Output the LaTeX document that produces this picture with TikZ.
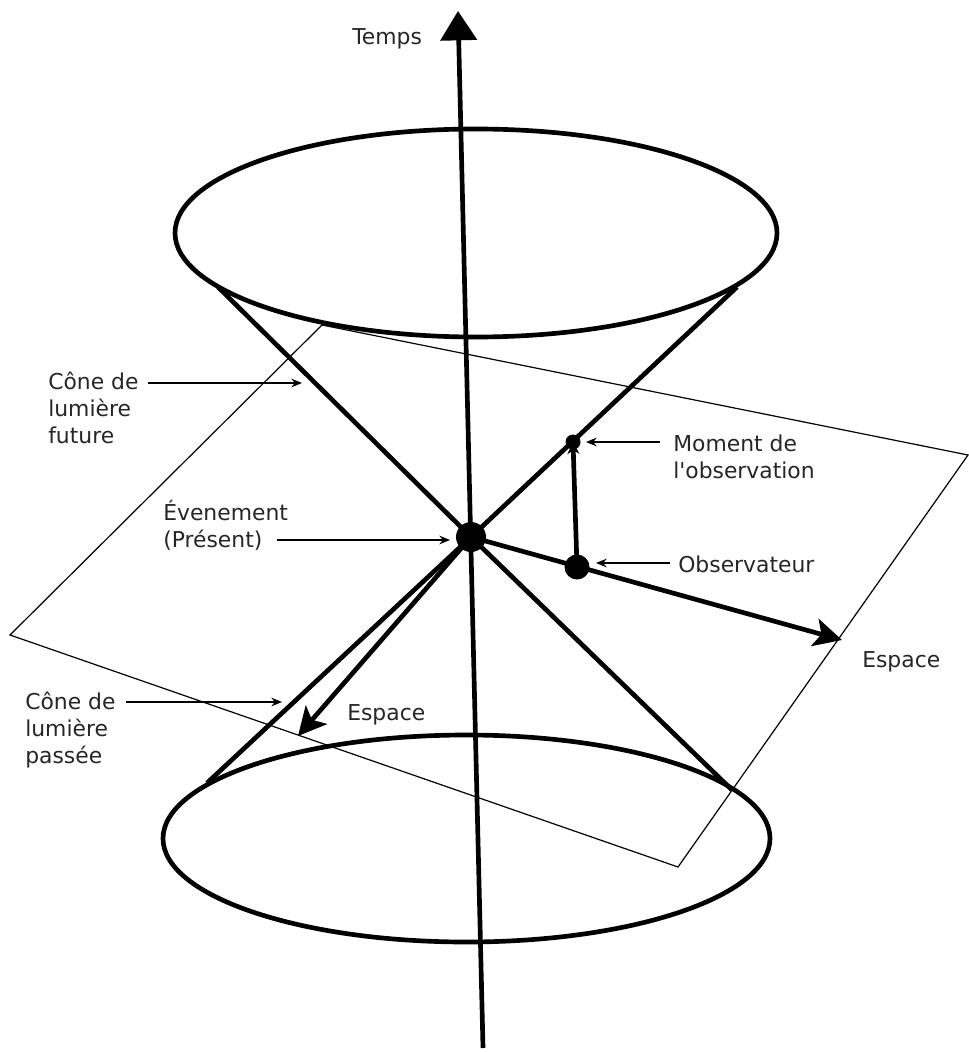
\documentclass[tikz,border=0pt]{standalone}
\usepackage{fontspec}
\setmainfont{DejaVu Sans}
\usepackage{tikz}
\usetikzlibrary{arrows.meta}

\begin{document}
\begin{tikzpicture}[x=0.75pt,y=-0.75pt,
  cone/.style={line width=3.5pt},
  plane/.style={line width=0.9pt},
  pointer/.style={line width=1.2pt,-{Stealth[length=8pt,width=6.5pt]}},
  space/.style={line width=3.5pt,-{Stealth[length=21pt,width=21pt,inset=5pt]}},
  lab/.style={anchor=base west,align=left,inner sep=0pt,text=black!85,
    font=\fontsize{16.4}{20}\selectfont}]
\useasboundingbox[fill=white] (0,0) rectangle (969,1052);
% plan de l'espace
\coordinate (plA) at (322,325);
\coordinate (plB) at (968,455);
\coordinate (plC) at (678,867);
\coordinate (plD) at (10,635);
\draw[plane] (plA) -- (plB) -- (plC) -- (plD) -- cycle;
% cones de lumiere
\coordinate (event) at (471,537);
\draw[cone] (476,233) ellipse [x radius=301, y radius=104];
\draw[cone] (466.5,838.5) ellipse [x radius=303.5, y radius=103.5];
\coordinate (tl) at (218,287);
\coordinate (tr) at (737,287);
\coordinate (bl) at (207,783);
\coordinate (br) at (732,790);
\draw[cone] (tl) -- (event) -- (br);
\draw[cone] (tr) -- (event) -- (bl);
% axe du temps
\coordinate (tbot) at (483,1048);
\coordinate (ttop) at (458,11);
\draw[line width=3.5pt,-{Triangle[length=22pt,width=27pt]}] (tbot) -- (ttop);
% axes de l'espace
\coordinate (espR) at (842,640);
\coordinate (espL) at (298,736);
\draw[space] (event) -- (espR);
\draw[space] (event) -- (espL);
% observateur
\coordinate (obs) at (577,567);
\coordinate (mom) at (573,442);
\draw[line width=3.5pt,-{Stealth[length=9pt,width=9pt]}] (obs) -- (mom);
\fill (event) circle [radius=15];
\fill (obs) circle [radius=12.5];
\fill (mom) circle [radius=7.5];
% textes
\node[lab] (temps) at (352,45) {Temps};
\node[lab] (futur) at (48,443) {Cône de\\lumière\\future};
\node[lab] (evt) at (163,547) {Évenement\\(Présent)};
\node[lab] (moment) at (673,478) {Moment de\\l\textquotesingle observation};
\node[lab] (observ) at (678,572) {Observateur};
\node[lab] (espaceR) at (862,667) {Espace};
\node[lab] (espaceL) at (347,720) {Espace};
\node[lab] (passe) at (25,763) {Cône de\\lumière\\passée};
% fleches des textes
\coordinate (futS) at (148,383);
\coordinate (futE) at (302,383);
\coordinate (evtS) at (277,540);
\coordinate (evtE) at (450,540);
\coordinate (momS) at (660,442);
\coordinate (momE) at (586,442);
\coordinate (obsS) at (670,563);
\coordinate (obsE) at (596,563);
\coordinate (pasS) at (126,702);
\coordinate (pasE) at (282,702);
\draw[pointer] (futS) -- (futE);
\draw[pointer] (evtS) -- (evtE);
\draw[pointer] (momS) -- (momE);
\draw[pointer] (obsS) -- (obsE);
\draw[pointer] (pasS) -- (pasE);
\end{tikzpicture}
\end{document}
